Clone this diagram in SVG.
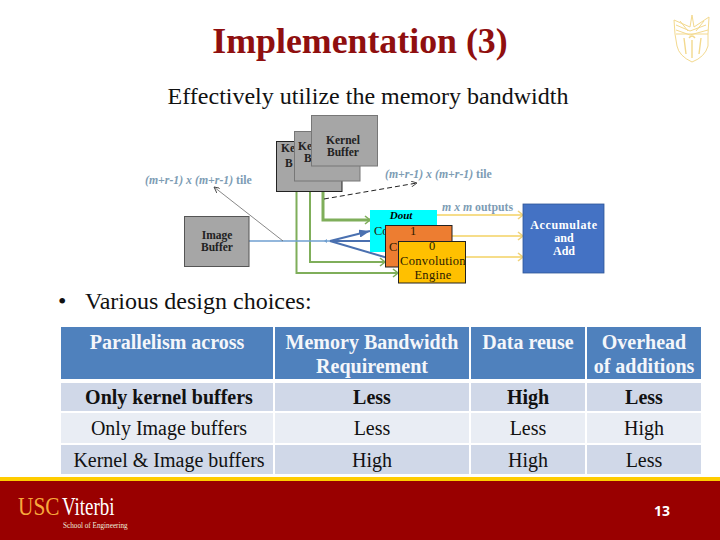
<svg xmlns="http://www.w3.org/2000/svg" width="720" height="540" viewBox="0 0 720 540">
<style>
text{font-family:"Liberation Serif","Times New Roman",serif;fill:#000}
.c{text-anchor:middle}
.title{font-size:35.800px;font-weight:bold;fill:#8f0f0f}
.body{font-size:24px;fill:#111}
.th{font-size:20px;font-weight:bold;fill:#f4f6fa;text-anchor:middle}
.td{font-size:20px;text-anchor:middle;fill:#111}
.b{font-weight:bold}
.hd{fill:#4f81bd}.r1{fill:#d0d8e8}.r2{fill:#e9edf4}
.buf{fill:#a6a6a6}
.lbl{font-size:11.500px;font-weight:bold;fill:#222}
.tile{font-size:11.800px;font-weight:bold;fill:#7d9cb4}
.g{fill:none;stroke:#7fae5a;stroke-width:2}
.y{fill:none;stroke:#f6dd8a;stroke-width:2}
.bl{fill:none;stroke:#4a70b0;stroke-width:2}
.eng{font-size:12.500px;fill:#2a1a00}
.acc{font-size:12px;font-weight:bold;fill:#fff;text-anchor:middle}
</style>
<defs>
<marker id="ga" markerWidth="8" markerHeight="10" refX="6" refY="5" orient="auto" markerUnits="userSpaceOnUse"><path d="M1 1L6 5L1 9" fill="none" stroke="#7fae5a" stroke-width="1.6"/></marker>
<marker id="ya" markerWidth="8" markerHeight="10" refX="6" refY="5" orient="auto" markerUnits="userSpaceOnUse"><path d="M1 1L6 5L1 9" fill="none" stroke="#f0d27a" stroke-width="1.6"/></marker>
<marker id="ba" markerWidth="12" markerHeight="8" refX="11" refY="4" orient="auto" markerUnits="userSpaceOnUse"><path d="M0 0L11 4L0 8Z" fill="#4a70b0"/></marker>
<marker id="ka" markerWidth="7" markerHeight="6" refX="6" refY="3" orient="auto" markerUnits="userSpaceOnUse"><path d="M0 0L6 3L0 6" fill="none" stroke="#444" stroke-width="0.9"/></marker>
<clipPath id="yc"><rect x="398" y="241" width="67" height="42"/></clipPath>
</defs>
<rect width="720" height="540" fill="#fff"/>

<text class="title c" x="360" y="53">Implementation (3)</text>
<text class="body c" x="368" y="104">Effectively utilize the memory bandwidth</text>
<text class="body" x="58" y="309">•</text>
<text class="body" x="85" y="309">Various design choices:</text>

<g id="crest" fill="none" stroke="#f3d98e" stroke-width="1">
<path d="M674 20L690 27L692 15L694 27L709 17L708 34L708 46Q705 57 692 62Q679 56 677 46L675 34Z"/>
<path d="M676 25L690 31L706 25M676 30L690 35L708 30M676 34H708M680 21L688 31M704 21L696 31"/>
<path d="M684 38L686 54M692 40V58M701 38L699 54M689 38Q692 34 695 38" stroke-width="1.400"/>
</g>

<g id="connectors">
<path class="g" d="M296.500 192V273H398" marker-end="url(#ga)"/>
<path class="g" d="M310 181V262H385" marker-end="url(#ga)"/>
<path class="g" d="M323 166V220H370" marker-end="url(#ga)" style="stroke-width:3"/>
<path d="M249 241H330" fill="none" stroke="#6f9fd0" stroke-width="1.500"/>
<path d="M324 241L327 239V243Z" fill="#6f9fd0"/>
<path class="bl" d="M330 241L370 231" marker-end="url(#ba)"/>
<path class="bl" d="M330 241H385" marker-end="url(#ba)"/>
<path class="bl" d="M330 241L398 261" marker-end="url(#ba)"/>
<path d="M283 241L214 187" fill="none" stroke="#555" stroke-width="0.7" marker-end="url(#ka)"/>
<path d="M324 199L417 183" fill="none" stroke="#222" stroke-width="1" stroke-dasharray="5 3" marker-end="url(#ka)"/>
<path class="y" d="M437 215H523" marker-end="url(#ya)"/>
<path class="y" d="M452 236H523" marker-end="url(#ya)"/>
<path class="y" d="M466 257H523" marker-end="url(#ya)"/>
</g>

<g id="kernel-buffer-2"><rect class="buf" x="276.500" y="141.500" width="65.500" height="50" stroke="#222" stroke-width="1"/><text class="lbl" x="281" y="152">Ke</text><text class="lbl" x="285" y="167">B</text></g>
<g id="kernel-buffer-1"><rect class="buf" x="294.500" y="131.500" width="65.500" height="49.500" stroke="#777" stroke-width="1"/><text class="lbl" x="298" y="150">Ke</text><text class="lbl" x="304" y="162">B</text></g>
<g id="kernel-buffer-0"><rect class="buf" x="311.500" y="115.500" width="66" height="50.500" stroke="#777" stroke-width="1"/><text class="lbl c" x="343" y="144">Kernel</text><text class="lbl c" x="343" y="156">Buffer</text></g>
<g id="image-buffer"><rect class="buf" x="184.500" y="216.500" width="64.500" height="50" stroke="#555" stroke-width="1"/><text class="lbl c" x="217" y="239">Image</text><text class="lbl c" x="217" y="251">Buffer</text></g>

<g id="engine-dout"><rect x="370" y="210" width="67" height="42" fill="#00ffff"/><text class="c" x="401" y="219" font-size="11" font-weight="bold" font-style="italic">Dout</text><text class="eng" x="374" y="235">Co</text></g>
<g id="engine-1"><rect x="385.500" y="225.500" width="66.500" height="41.500" fill="#ed7d31" stroke="#222" stroke-width="1"/><text class="eng c" x="413" y="235">1</text><text class="eng" x="389" y="251">C</text></g>
<g id="engine-0"><rect x="398.500" y="241.500" width="67" height="41.500" fill="#ffc000" stroke="#222" stroke-width="1"/><g clip-path="url(#yc)"><text class="eng c" x="432" y="250">0</text><text class="eng c" x="433" y="265" letter-spacing=".3">Convolution</text><text class="eng c" x="433" y="279" letter-spacing=".3">Engine</text></g></g>
<g id="accumulate"><rect x="523" y="204" width="81" height="69" fill="#4472c4" stroke="#2f5597" stroke-width="0.800"/><text class="acc" x="564" y="229" letter-spacing=".6">Accumulate</text><text class="acc" x="564" y="242">and</text><text class="acc" x="564" y="255">Add</text></g>

<text class="tile" x="145" y="184"><tspan font-style="italic">(m+r-1) x (m+r-1)</tspan> tile</text>
<text class="tile" x="385" y="178"><tspan font-style="italic">(m+r-1) x (m+r-1)</tspan> tile</text>
<text class="tile" x="442" y="211"><tspan font-style="italic">m x m</tspan> outputs</text>

<g id="table">
<rect class="hd" x="61" y="327" width="212" height="52"/><rect class="hd" x="275" y="327" width="194" height="52"/><rect class="hd" x="471" y="327" width="114" height="52"/><rect class="hd" x="587" y="327" width="114" height="52"/>
<rect class="r1" x="61" y="383" width="212" height="28"/><rect class="r1" x="275" y="383" width="194" height="28"/><rect class="r1" x="471" y="383" width="114" height="28"/><rect class="r1" x="587" y="383" width="114" height="28"/>
<rect class="r2" x="61" y="413" width="212" height="30"/><rect class="r2" x="275" y="413" width="194" height="30"/><rect class="r2" x="471" y="413" width="114" height="30"/><rect class="r2" x="587" y="413" width="114" height="30"/>
<rect class="r1" x="61" y="445" width="212" height="29"/><rect class="r1" x="275" y="445" width="194" height="29"/><rect class="r1" x="471" y="445" width="114" height="29"/><rect class="r1" x="587" y="445" width="114" height="29"/>
<text class="th" x="167" y="349">Parallelism across</text>
<text class="th" x="372" y="349">Memory Bandwidth</text><text class="th" x="372" y="373">Requirement</text>
<text class="th" x="528" y="349">Data reuse</text>
<text class="th" x="644" y="349">Overhead</text><text class="th" x="644" y="373">of additions</text>
<text class="td b" x="169" y="404">Only kernel buffers</text><text class="td b" x="372" y="404">Less</text><text class="td b" x="528" y="404">High</text><text class="td b" x="644" y="404">Less</text>
<text class="td" x="169" y="435">Only Image buffers</text><text class="td" x="372" y="435">Less</text><text class="td" x="528" y="435">Less</text><text class="td" x="644" y="435">High</text>
<text class="td" x="169" y="467">Kernel &amp; Image buffers</text><text class="td" x="372" y="467">High</text><text class="td" x="528" y="467">High</text><text class="td" x="644" y="467">Less</text>
</g>

<g id="footer">
<rect x="0" y="481" width="720" height="59" fill="#990000"/>
<rect x="0" y="477" width="720" height="4" fill="#ffcc00"/>
<text transform="translate(18 515) scale(.82 1)" font-size="26" style="fill:#f8a93c">USC</text>
<text transform="translate(62 515) scale(.73 1)" font-size="26" style="fill:#fff">Viterbi</text>
<text x="63" y="528" font-size="7.200" style="fill:#eed">School of Engineering</text>
<text x="662" y="516" text-anchor="middle" font-size="14" font-weight="bold" style="font-family:'Open Sans','Liberation Sans',sans-serif;fill:#fff">13</text>
</g>
</svg>
